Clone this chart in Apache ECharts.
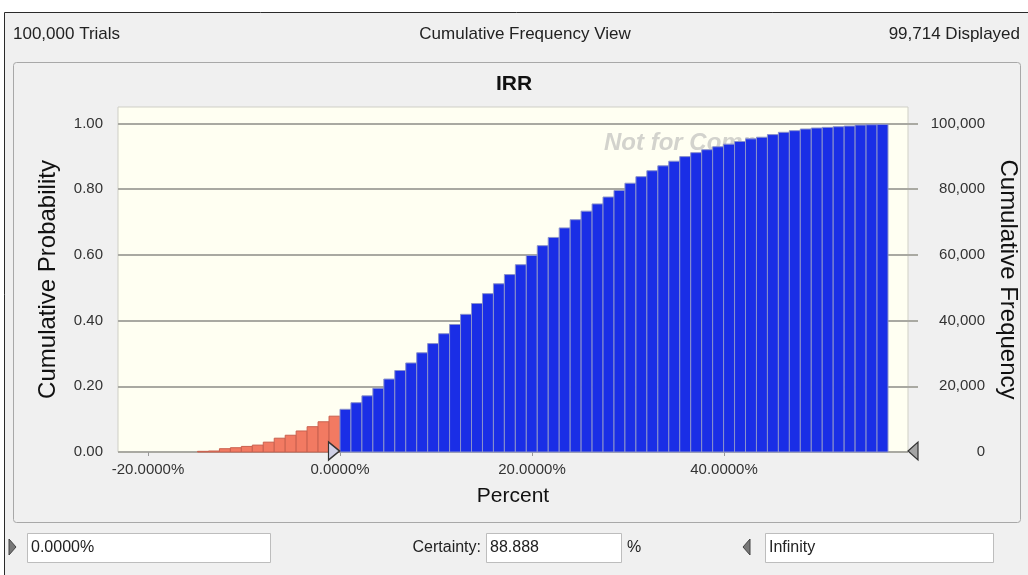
<!DOCTYPE html>
<html>
<head>
<meta charset="UTF-8">
<title>IRR</title>
<script src="https://cdn.jsdelivr.net/npm/echarts@6/dist/echarts.min.js"></script>
<style>
  html, body { margin: 0; padding: 0; background: #fff; }
  #container { width: 1028px; height: 575px; }
</style>
</head>
<body>
<div id="container"></div>
<script>
// histogram bins, in percent
var binWidth = 1.1417;
var firstBinStart = -14.842;   // 13 bins below 0%

// cumulative probability of each bin
// bins below the 0% grabber (outside certainty range)
var lowProb = [0.002, 0.003, 0.010, 0.013, 0.017, 0.021, 0.030, 0.042, 0.051, 0.064, 0.077, 0.092, 0.109];
// bins inside certainty range
var certProb = [
  0.130, 0.150, 0.171, 0.194, 0.222, 0.248, 0.271, 0.302, 0.330, 0.360,
  0.388, 0.419, 0.452, 0.482, 0.512, 0.540, 0.570, 0.598, 0.628, 0.653,
  0.682, 0.707, 0.733, 0.755, 0.776, 0.796, 0.818, 0.838, 0.856, 0.871,
  0.885, 0.899, 0.911, 0.920, 0.929, 0.937, 0.945, 0.953, 0.958, 0.966,
  0.973, 0.978, 0.983, 0.986, 0.988, 0.990, 0.992, 0.995, 0.996, 0.997
];

var xTicks = [-20, 0, 20, 40];
var probTicks = [0, 0.2, 0.4, 0.6, 0.8, 1.0];
var freqTicks = [0, 20000, 40000, 60000, 80000, 100000];
var trials = 100000;
var displayed = 99714;
var certainty = 88.888;
var lowerBound = 0;

// build [start, end, prob] rows for the custom series
function makeBins(probs, offset) {
  var rows = [];
  for (var i = 0; i < probs.length; i++) {
    var s = firstBinStart + (offset + i) * binWidth;
    rows.push([s, s + binWidth, probs[i]]);
  }
  return rows;
}
var lowBins = makeBins(lowProb, 0);
var certBins = makeBins(certProb, lowProb.length);

function binRenderer(fill, stroke) {
  return function (params, api) {
    var a = api.coord([api.value(0), api.value(2)]);
    var b = api.coord([api.value(1), 0]);
    return {
      type: 'rect',
      shape: { x: a[0], y: a[1], width: b[0] - a[0], height: b[1] - a[1] },
      style: { fill: fill, stroke: stroke, lineWidth: 1 }
    };
  };
}

var font = 'Liberation Sans, Arial, sans-serif';
var mychart = echarts.init(document.getElementById('container'));

var option = {
  backgroundColor: '#ffffff',
  animation: false,
  textStyle: { fontFamily: font },
  title: {
    text: 'IRR',
    left: 'center',
    top: 69,
    textStyle: { fontSize: 21, fontWeight: 'bold', color: '#111', fontFamily: font }
  },
  grid: {
    left: 118, right: 120, top: 107, bottom: 123,
    show: true,
    backgroundColor: '#fffff2',
    borderColor: '#cfcfc6',
    borderWidth: 1,
    z: -1
  },
  xAxis: {
    type: 'value',
    min: -23.125,
    max: 59.17,
    name: 'Percent',
    nameLocation: 'middle',
    nameGap: 34,
    nameTextStyle: { fontSize: 21, color: '#111', fontFamily: font },
    axisLine: { show: false },
    axisTick: { show: true, customValues: xTicks, length: 4, lineStyle: { color: '#999' } },
    axisLabel: {
      customValues: xTicks,
      fontSize: 15, color: '#333', margin: 10,
      formatter: function (v) { return v.toFixed(4) + '%'; }
    },
    splitLine: { show: false }
  },
  yAxis: [{
    type: 'value',
    min: 0, max: 1.05,
    position: 'left',
    name: 'Cumulative Probability',
    nameLocation: 'middle',
    nameGap: 58,
    nameTextStyle: { fontSize: 24, color: '#111', fontFamily: font },
    axisLine: { show: false },
    axisTick: { show: true, customValues: probTicks, length: 10, lineStyle: { color: '#a9a9a2', width: 2 } },
    axisLabel: {
      customValues: probTicks,
      fontSize: 15, color: '#333', margin: 15,
      formatter: function (v) { return v.toFixed(2); }
    },
    splitLine: { show: true, lineStyle: { color: '#a9a9a2', width: 2 } }
  }, {
    type: 'value',
    min: 0, max: 105000,
    position: 'right',
    name: 'Cumulative Frequency',
    nameLocation: 'middle',
    nameGap: 83,
    nameRotate: -90,
    nameTextStyle: { fontSize: 24, color: '#111', fontFamily: font },
    axisLine: { show: false },
    axisTick: { show: true, customValues: freqTicks.slice(1), length: 10, lineStyle: { color: '#a9a9a2', width: 2 } },
    axisLabel: {
      customValues: freqTicks,
      fontSize: 15, color: '#333', margin: 77, align: 'right',
      formatter: function (v) { return v.toLocaleString('en-US'); }
    },
    splitLine: { show: false }
  }],
  series: [{
    name: 'below',
    type: 'custom',
    renderItem: binRenderer('#f27a62', '#c9614f'),
    encode: { x: [0, 1], y: 2 },
    data: lowBins,
    z: 2
  }, {
    name: 'certainty',
    type: 'custom',
    renderItem: binRenderer('#1a2ee6', '#8a92cc'),
    encode: { x: [0, 1], y: 2 },
    data: certBins,
    z: 2
  }, {
    name: 'grabber',
    type: 'scatter',
    data: [[lowerBound, 0]],
    symbol: 'triangle',
    symbolRotate: -90,
    symbolSize: [18, 11],
    symbolOffset: [-6, -1],
    clip: false,
    itemStyle: { color: '#cfd0e6', borderColor: '#333', borderWidth: 1.5, opacity: 1 },
    z: 5
  }],
  graphic: [
    { type: 'rect', z: -20, shape: { x: 4.5, y: 12.5, width: 1030, height: 600 },
      style: { fill: '#f0f0f0', stroke: '#2a2a2a', lineWidth: 1 } },
    { type: 'rect', z: -15, shape: { x: 13.5, y: 62.5, width: 1007, height: 460, r: 3 },
      style: { fill: '#f0f0f0', stroke: '#a8a8a8', lineWidth: 1 } },
    { type: 'text', z: 1, x: 13, y: 34,
      style: { text: trials.toLocaleString('en-US') + ' Trials', font: '17px ' + font, fill: '#222', textVerticalAlign: 'middle' } },
    { type: 'text', z: 1, x: 525, y: 34,
      style: { text: 'Cumulative Frequency View', font: '17px ' + font, fill: '#222', textAlign: 'center', textVerticalAlign: 'middle' } },
    { type: 'text', z: 1, x: 1020, y: 34,
      style: { text: displayed.toLocaleString('en-US') + ' Displayed', font: '17px ' + font, fill: '#222', textAlign: 'right', textVerticalAlign: 'middle' } },
    // watermark, drawn under the bars
    { type: 'text', z: 1, x: 604, y: 143,
      style: { text: 'Not for Commercial Use', font: 'italic bold 24px ' + font, fill: '#d3d3cd', textVerticalAlign: 'middle' } },
    // upper grabber (Infinity)
    { type: 'polygon', z: 5, shape: { points: [[918, 442], [918, 460], [908, 451]] },
      style: { fill: '#a4a4a4', stroke: '#333', lineWidth: 1.2 } },
    // bottom controls
    { type: 'polygon', z: 1, shape: { points: [[9, 539], [9, 555], [16, 547]] },
      style: { fill: '#777', stroke: '#444', lineWidth: 1 } },
    { type: 'rect', z: 1, shape: { x: 27.5, y: 533.5, width: 243, height: 29 },
      style: { fill: '#fff', stroke: '#bdbdbd', lineWidth: 1 } },
    { type: 'text', z: 2, x: 31, y: 548,
      style: { text: lowerBound.toFixed(4) + '%', font: '16px ' + font, fill: '#222', textVerticalAlign: 'middle' } },
    { type: 'text', z: 1, x: 481, y: 548,
      style: { text: 'Certainty:', font: '16px ' + font, fill: '#222', textAlign: 'right', textVerticalAlign: 'middle' } },
    { type: 'rect', z: 1, shape: { x: 486.5, y: 533.5, width: 135, height: 29 },
      style: { fill: '#fff', stroke: '#bdbdbd', lineWidth: 1 } },
    { type: 'text', z: 2, x: 490, y: 548,
      style: { text: certainty.toFixed(3), font: '16px ' + font, fill: '#222', textVerticalAlign: 'middle' } },
    { type: 'text', z: 1, x: 627, y: 548,
      style: { text: '%', font: '16px ' + font, fill: '#222', textVerticalAlign: 'middle' } },
    { type: 'polygon', z: 1, shape: { points: [[750, 539], [750, 555], [743, 547]] },
      style: { fill: '#777', stroke: '#444', lineWidth: 1 } },
    { type: 'rect', z: 1, shape: { x: 765.5, y: 533.5, width: 228, height: 29 },
      style: { fill: '#fff', stroke: '#bdbdbd', lineWidth: 1 } },
    { type: 'text', z: 2, x: 769, y: 548,
      style: { text: 'Infinity', font: '16px ' + font, fill: '#222', textVerticalAlign: 'middle' } }
  ]
};

mychart.setOption(option);
</script>
</body>
</html>
